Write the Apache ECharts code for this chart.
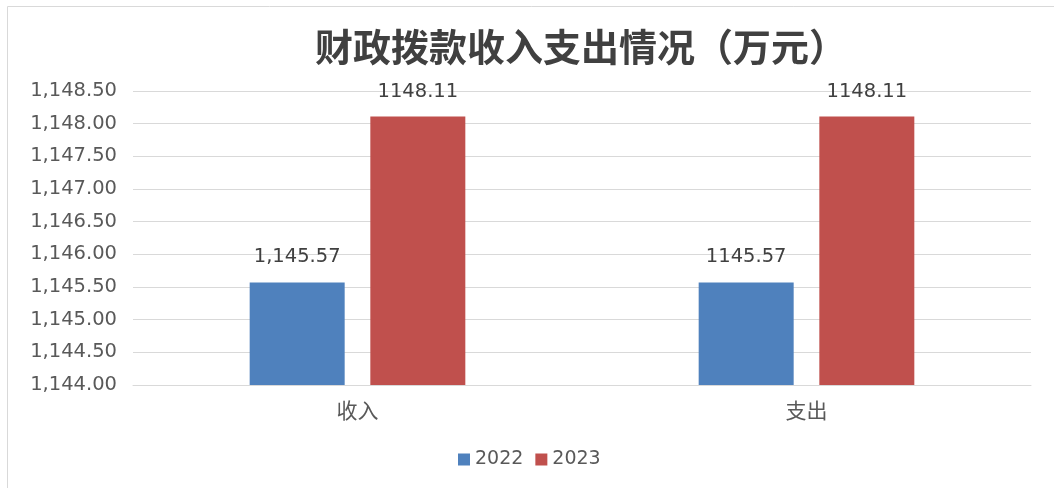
<!DOCTYPE html>
<html>
<head>
<meta charset="utf-8">
<script src="https://cdn.jsdelivr.net/npm/echarts@6/dist/echarts.min.js"></script>
<style>
  html, body { margin: 0; padding: 0; background: #fff; }
  #main { width: 1054px; height: 488px; }
</style>
</head>
<body>
<div id="main"></div>
<script>
let categories = ['收入', '支出'];
let values2022 = [1145.57, 1145.57];
let values2023 = [1148.11, 1148.11];
// 原图里两处标签写法不一样
let labels2022 = ['1,145.57', '1145.57'];
let labels2023 = ['1148.11', '1148.11'];

let fmt = v => v.toLocaleString('en-US', { minimumFractionDigits: 2, maximumFractionDigits: 2 });

var myChart = echarts.init(document.getElementById('main'));
myChart.setOption({
  animation: false,
  textStyle: { fontFamily: '"Noto Sans CJK SC", "DejaVu Sans", sans-serif' },
  graphic: [{
    type: 'rect',
    shape: { x: 7.5, y: 6.5, width: 1100, height: 600 },
    style: { fill: 'none', stroke: '#d9d9d9', lineWidth: 1 },
    silent: true
  }],
  title: {
    text: '财政拨款收入支出情况（万元）',
    left: 310,
    top: 23,
    textStyle: {
      color: '#404040',
      fontSize: 38,
      fontWeight: 'bold',
      fontFamily: '"Noto Sans CJK SC", sans-serif'
    }
  },
  legend: {
    data: ['2022', '2023'],
    top: 445,
    left: 453,
    itemWidth: 12,
    itemHeight: 12,
    itemGap: 12,
    icon: 'rect',
    textStyle: { color: '#595959', fontSize: 19, fontFamily: '"DejaVu Sans", sans-serif' }
  },
  grid: { left: 133, right: 23, top: 91, bottom: 103 },
  xAxis: {
    type: 'category',
    data: categories,
    axisLine: { lineStyle: { color: '#d9d9d9' } },
    axisTick: { show: false },
    axisLabel: { color: '#595959', fontSize: 21, margin: 15 }
  },
  yAxis: {
    type: 'value',
    min: 1144,
    max: 1148.5,
    interval: 0.5,
    axisLine: { show: false },
    axisTick: { show: false },
    splitLine: { lineStyle: { color: '#d9d9d9' } },
    axisLabel: {
      color: '#595959',
      fontSize: 19.5,
      margin: 16,
      fontFamily: '"DejaVu Sans", sans-serif',
      formatter: fmt
    }
  },
  series: [
    {
      name: '2022',
      type: 'bar',
      data: values2022,
      barWidth: 95,
      barGap: '27%',
      itemStyle: { color: '#4F81BD' },
      label: {
        show: true,
        position: 'top',
        distance: 15,
        color: '#404040',
        fontSize: 19.5,
        fontFamily: '"DejaVu Sans", sans-serif',
        formatter: p => labels2022[p.dataIndex]
      }
    },
    {
      name: '2023',
      type: 'bar',
      data: values2023,
      barWidth: 95,
      itemStyle: { color: '#C0504D' },
      label: {
        show: true,
        position: 'top',
        distance: 15,
        color: '#404040',
        fontSize: 19.5,
        fontFamily: '"DejaVu Sans", sans-serif',
        formatter: p => labels2023[p.dataIndex]
      }
    }
  ]
});
</script>
</body>
</html>
